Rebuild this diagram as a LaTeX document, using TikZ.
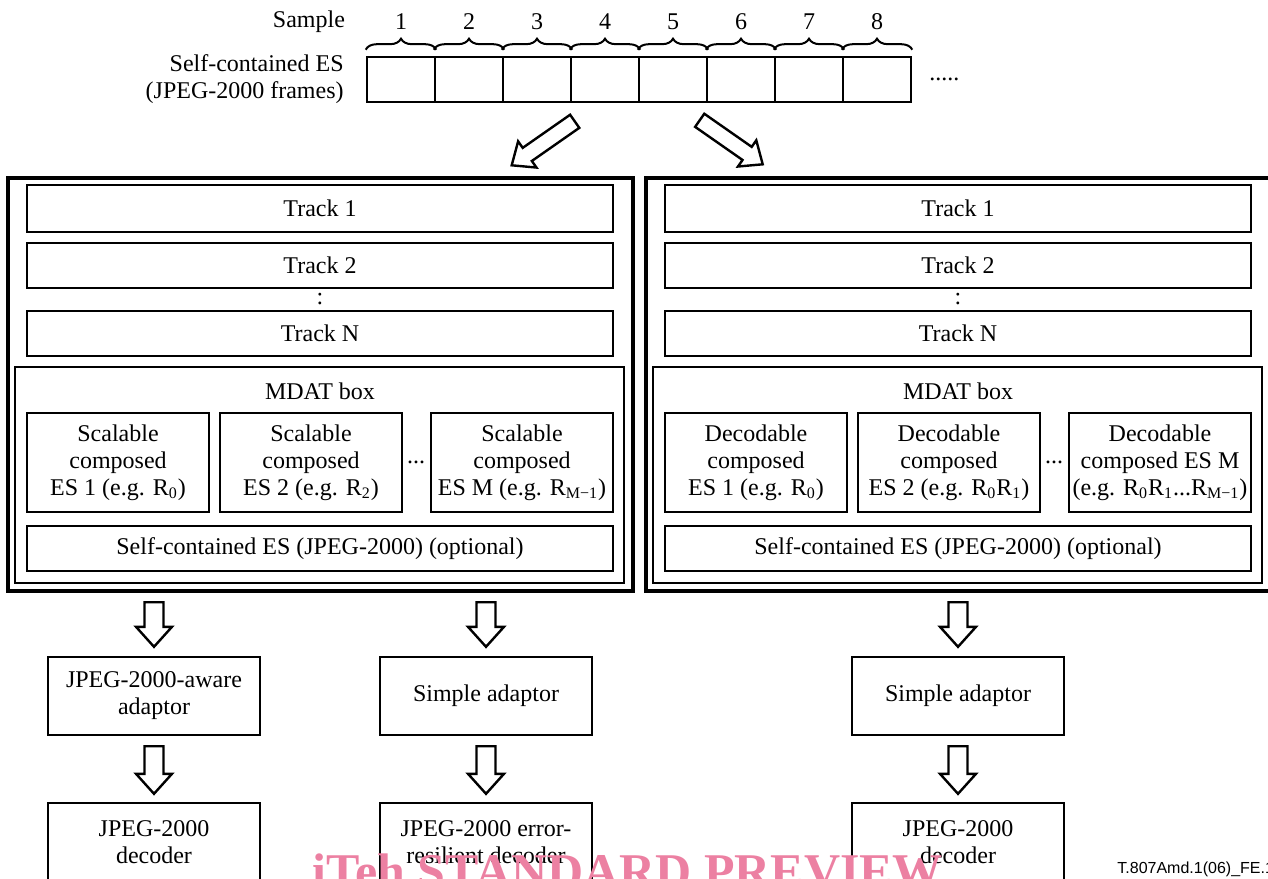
\documentclass[tikz,border=0pt]{standalone}
\usepackage{fontspec}
\setmainfont{Liberation Serif}
\newfontfamily\figidfont{Liberation Sans}
\usetikzlibrary{calc,decorations.pathreplacing}

\definecolor{wmpink}{RGB}{236,128,162}

% hollow block arrow: tail, tip, half shaft, half head, head length
\newcommand{\hollowarrow}[5]{%
  \path ($(#2)!#5!(#1)$) coordinate (hb);
  \draw[harrow] ($(#1)!#3!90:(#2)$) -- ($(hb)!#3!90:(#2)$) -- ($(hb)!#4!90:(#2)$)
    -- (#2) -- ($(hb)!#4!-90:(#2)$) -- ($(hb)!#3!-90:(#2)$) -- ($(#1)!#3!-90:(#2)$) -- cycle;
}

\tikzset{
  wh/.style 2 args={minimum width=#1*0.5pt, minimum height=#2*0.5pt},
  box/.style={draw, line width=1.2pt, inner sep=0pt, align=center},
  frame/.style={draw, line width=2.2pt, inner sep=0pt},
  cell/.style={draw, line width=1.3pt, inner sep=0pt},
  harrow/.style={draw, line width=1.2pt, fill=white, line join=miter},
  brc/.style={decorate, decoration={brace, amplitude=5.5pt}, line width=1pt},
}

\begin{document}
\begin{tikzpicture}[x=0.5pt, y=-0.5pt, font=\fontsize{12}{13.5}\selectfont]
  \path[use as bounding box] (0,0) rectangle (1268,878);
  \clip (0,0) rectangle (1268,878);

  % sample row
  \node[anchor=east] (samplelbl) at (352,22) {Sample};
  \foreach \i in {1,...,8} {
    \node[cell, wh={68}{45}] (f\i) at ({367+68*\i-34},79.5) {};
    \node (num\i) at ({367+68*\i-34},22) {\i};
    \draw[brc] ($(f\i.north west)+(0,-6)$) -- ($(f\i.north east)+(0,-6)$);
  }
  \node[anchor=east, align=right] (eslbl) at ($(f1.west)+(-15,0)$) {Self-contained ES\\(JPEG-2000 frames)};
  \node[anchor=west] (more) at ($(f8.east)+(10,0)$) {.....};

  % left file
  \node[frame, wh={625}{413}] (lframe) at (320.5,384.5) {};
  \node[box, wh={586}{47}] (ltrack1) at (320,208.5) {Track 1};
  \node[box, wh={586}{45}] (ltrack2) at (320,265.5) {Track 2};
  \node (lcolon) at (320,299) {:};
  \node[box, wh={586}{45}] (ltrackN) at (320,333.5) {Track N};
  \node[box, wh={609}{216}] (lmdat) at (319.5,475) {};
  \node (lmdatlbl) at (320,391) {MDAT box};
  \node[box, wh={182}{99}] (lsc1) at (118,462.5) {Scalable\\composed\\ES 1 (e.g. R\textsubscript{0})};
  \node[box, wh={182}{99}] (lsc2) at (311,462.5) {Scalable\\composed\\ES 2 (e.g. R\textsubscript{2})};
  \node (ldots) at (416,462) {...};
  \node[box, wh={182}{99}] (lsc3) at (522,462.5) {Scalable\\composed\\ES M (e.g. R\textsubscript{M−1})};
  \node[box, wh={586}{45}] (lself) at (320,548.5) {Self-contained ES (JPEG-2000) (optional)};

  % right file
  \node[frame, wh={625}{413}] (rframe) at (958.5,384.5) {};
  \node[box, wh={586}{47}] (rtrack1) at (958,208.5) {Track 1};
  \node[box, wh={586}{45}] (rtrack2) at (958,265.5) {Track 2};
  \node (rcolon) at (958,299) {:};
  \node[box, wh={586}{45}] (rtrackN) at (958,333.5) {Track N};
  \node[box, wh={609}{216}] (rmdat) at (957.5,475) {};
  \node (rmdatlbl) at (958,391) {MDAT box};
  \node[box, wh={182}{99}] (rdc1) at (756,462.5) {Decodable\\composed\\ES 1 (e.g. R\textsubscript{0})};
  \node[box, wh={182}{99}] (rdc2) at (949,462.5) {Decodable\\composed\\ES 2 (e.g. R\textsubscript{0}R\textsubscript{1})};
  \node (rdots) at (1054,462) {...};
  \node[box, wh={182}{99}] (rdc3) at (1160,462.5) {Decodable\\composed ES M\\(e.g. R\textsubscript{0}R\textsubscript{1}...R\textsubscript{M−1})};
  \node[box, wh={586}{45}] (rself) at (958,548.5) {Self-contained ES (JPEG-2000) (optional)};

  % adaptors and decoders
  \node[box, wh={212}{78}] (adL) at (154,696) {JPEG-2000-aware\\adaptor};
  \node[box, wh={212}{78}] (adM) at (486,696) {Simple adaptor};
  \node[box, wh={212}{78}] (adR) at (958,696) {Simple adaptor};
  \node[box, wh={212}{78}] (decL) at (154,842) {JPEG-2000\\decoder};
  \node[box, wh={212}{78}] (decM) at (486,842) {JPEG-2000 error-\\resilient decoder};
  \node[box, wh={212}{78}] (decR) at (958,842) {JPEG-2000\\decoder};

  % block arrows
  \coordinate (ltail) at ($(f4.south west)+(5,18)$);
  \coordinate (ltip) at ($(f4.south west)+(-58,62)$);
  \coordinate (rtail) at ($(f6.south west)+(-6,17)$);
  \coordinate (rtip) at ($(f6.south west)+(57,61)$);
  \hollowarrow{ltail}{ltip}{4pt}{8pt}{9.5pt}
  \hollowarrow{rtail}{rtip}{4pt}{8pt}{9.5pt}

  \foreach \ad/\dec/\fr in {adL/decL/lframe, adM/decM/lframe, adR/decR/rframe} {
    \coordinate (t1) at ($(\ad.north |- \fr.south)+(0,9)$);
    \coordinate (h1) at ($(\ad.north)+(0,-9)$);
    \hollowarrow{t1}{h1}{4.75pt}{9pt}{10pt}
    \coordinate (t2) at ($(\ad.south)+(0,10)$);
    \coordinate (h2) at ($(\dec.north)+(0,-8)$);
    \hollowarrow{t2}{h2}{4.75pt}{9pt}{10pt}
  }

  \node[anchor=west, inner sep=0pt, font=\figidfont\fontsize{8}{9}\selectfont] (figid) at (1117,869) {T.807Amd.1(06)\_FE.1};
  \node[anchor=base west, inner sep=0pt, text=wmpink, font=\fontsize{25}{25}\bfseries\selectfont] (wmark) at (312,888) {iTeh STANDARD PREVIEW};
\end{tikzpicture}
\end{document}
